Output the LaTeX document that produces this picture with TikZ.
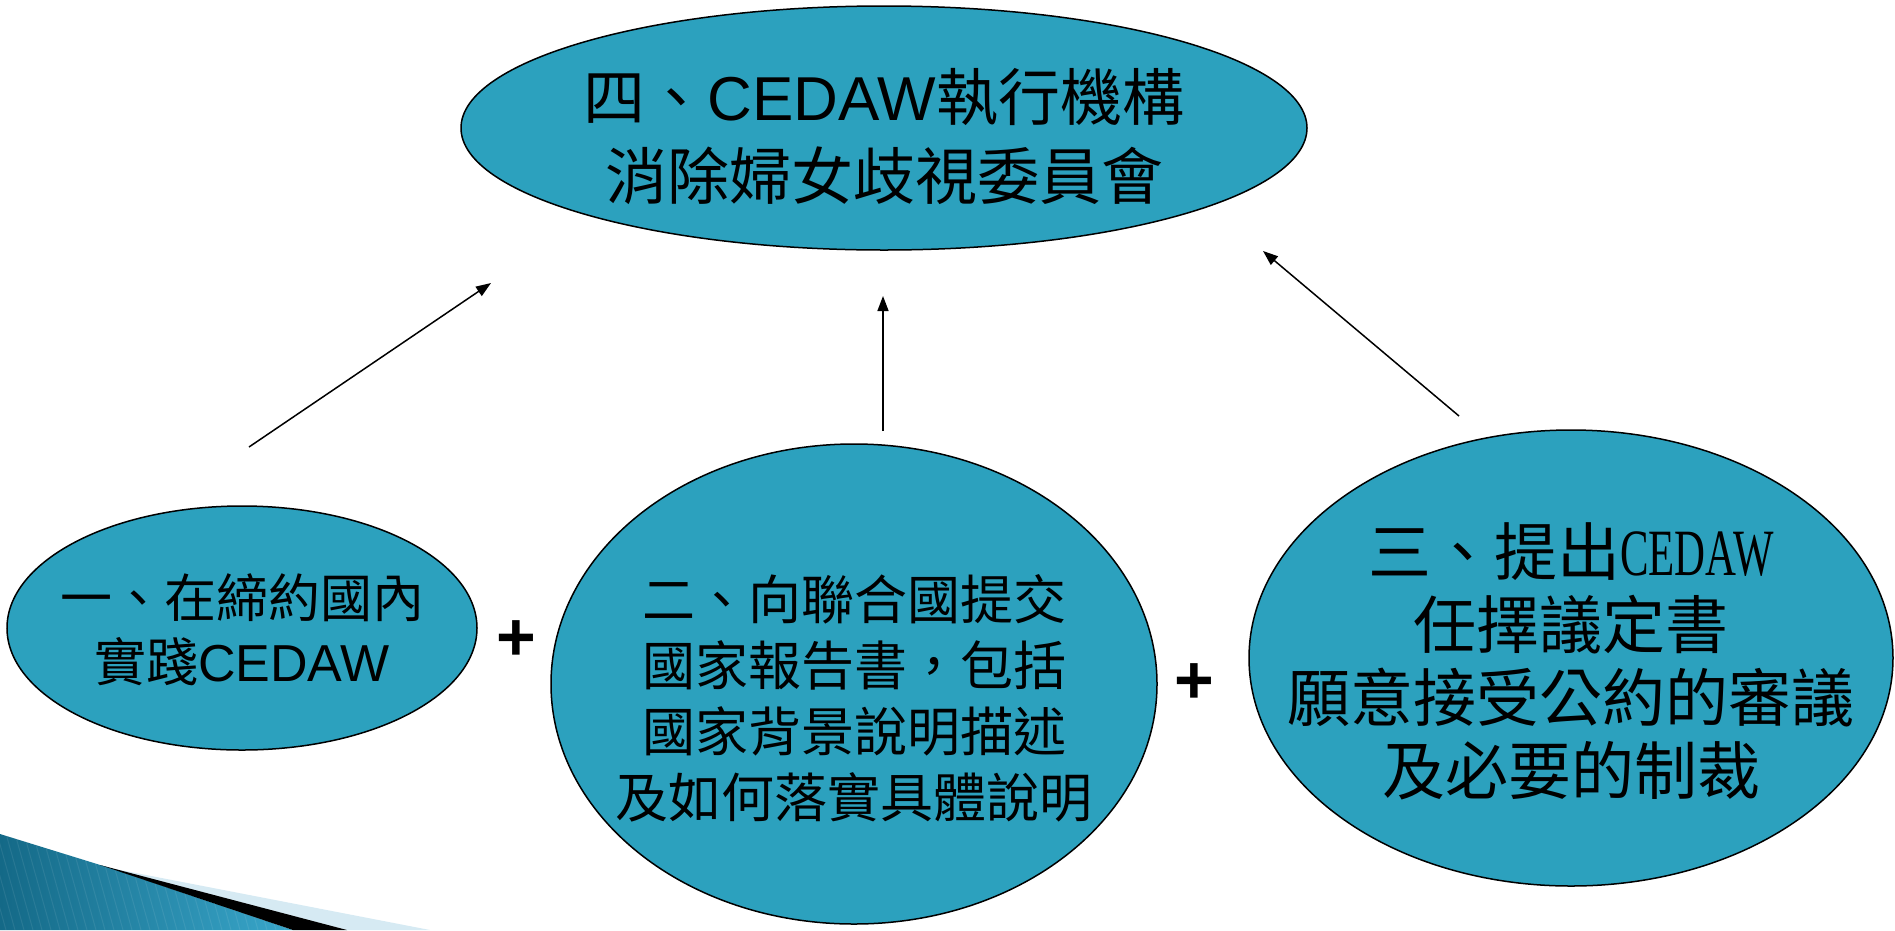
\documentclass[tikz,border=0pt]{standalone}
\usepackage{fontspec}
\setmainfont{Liberation Sans}
\newfontfamily\cjk{Noto Sans CJK TC}
\newfontfamily\serifl{Liberation Serif}
\usetikzlibrary{shapes.geometric,arrows.meta}
\definecolor{tealfill}{RGB}{44,161,190}
\definecolor{swdark}{RGB}{20,105,135}
\definecolor{swlight}{RGB}{58,168,204}
\definecolor{swpale}{RGB}{214,234,243}
\begin{document}
\begin{tikzpicture}[x=1pt,y=-1pt,
  blob/.style={ellipse, draw=black, line width=1.5pt, fill=tealfill, inner sep=0pt},
  lbl/.style={align=center, inner sep=0pt},
  arr/.style={line width=1.5pt, -{Triangle[length=15pt,width=11pt]}},
  plussign/.style={inner sep=0pt, font=\fontsize{68}{68}\selectfont\bfseries}]
\useasboundingbox (0,0) rectangle (1895,930);
% bottom-left swoosh
\begin{scope}
  \clip (0,834) -- (110,868) -- (293,930) -- (0,930) -- cycle;
  \shade[left color=swdark, right color=swlight] (0,830) rectangle (300,930);
  \foreach \i in {-40,-31,...,300} {
    \draw[white, opacity=0.08, line width=1pt] (\i,830) -- (\i+28,930);
  }
\end{scope}
\fill[swpale] (110,868) -- (430,930) -- (347,930) -- cycle;
\fill[black] (100,865) -- (347,930) -- (293,930) -- cycle;
% ellipses
\node[blob, minimum width=846pt, minimum height=244pt] (top) at (884,128) {};
\node[lbl, font=\fontsize{62}{79}\selectfont] (toptext) at (884,137)
  {{\cjk 四、}CEDAW{\cjk 執行機構}\\{\cjk 消除婦女歧視委員會}};
\node[blob, minimum width=470pt, minimum height=244pt] (one) at (242,628) {};
\node[lbl, font=\fontsize{52}{64}\selectfont] (onetext) at (242,630)
  {{\cjk 一、在締約國內}\\{\cjk 實踐}CEDAW};
\node[blob, minimum width=606pt, minimum height=480pt] (two) at (854,684) {};
\node[lbl, font=\fontsize{53}{66}\selectfont\cjk] (twotext) at (854,698)
  {二、向聯合國提交\\國家報告書，包括\\國家背景說明描述\\及如何落實具體說明};
\node[blob, minimum width=644pt, minimum height=456pt] (three) at (1571,658) {};
\node[lbl, font=\fontsize{63}{73}\selectfont\cjk] (threetext) at (1571,661)
  {三、提出{\serifl\scalebox{0.68}[1.05]{CEDAW}}\\任擇議定書\\願意接受公約的審議\\及必要的制裁};
% plus signs
\node[plussign] (p1) at (516,641) {+};
\node[plussign] (p2) at (1194,684) {+};
% arrows
\coordinate (a1s) at (249,447); \coordinate (a1e) at (491,283);
\coordinate (a2s) at (883,431); \coordinate (a2e) at (883,296);
\coordinate (a3s) at (1459,416); \coordinate (a3e) at (1263,251);
\draw[arr] (a1s) -- (a1e);
\draw[arr] (a2s) -- (a2e);
\draw[arr] (a3s) -- (a3e);
\end{tikzpicture}
\end{document}
